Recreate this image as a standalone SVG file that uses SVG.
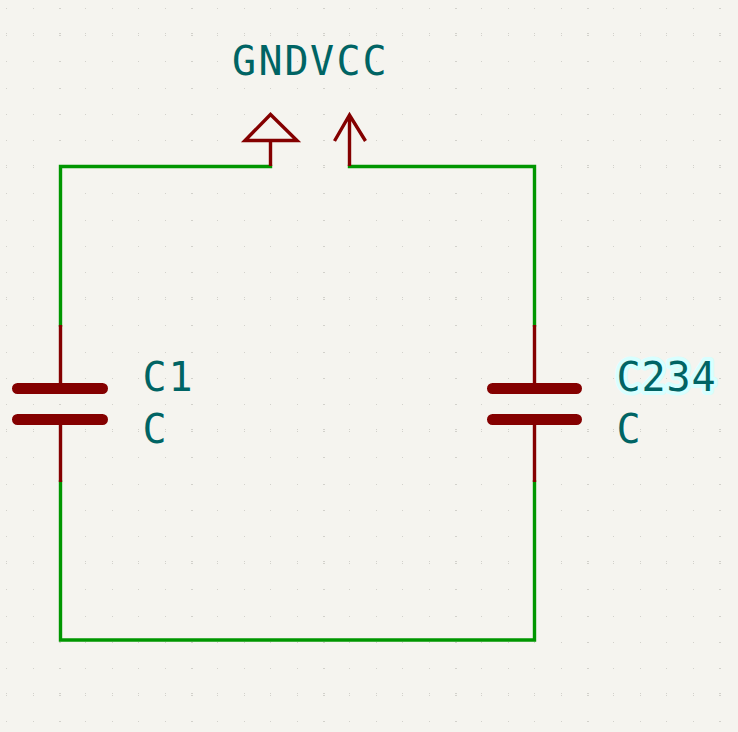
<svg xmlns="http://www.w3.org/2000/svg" width="738" height="732" viewBox="0 0 738 732">
<style>
.wire{fill:none;stroke:#009600;stroke-width:3.4;stroke-linecap:square;stroke-linejoin:miter}
.sym{fill:none;stroke:#840000;stroke-width:3.4;stroke-linejoin:miter}
.plate{fill:none;stroke:#840000;stroke-width:11;stroke-linecap:round}
text{font-family:"DejaVu Sans Mono","Liberation Mono",monospace;font-size:40px;fill:#006464}
.halo{paint-order:stroke;stroke:#d8ffff;stroke-width:8;stroke-linejoin:round}
.d{fill:#d2d1cb}
</style>
<defs>
<pattern id="grid" x="6" y="34" width="132" height="132" patternUnits="userSpaceOnUse">
<g class="d">
<rect x="0" y="1" width="1" height="1"/><rect x="27" y="1" width="1" height="1"/><rect x="53" y="1" width="2" height="1"/><rect x="79" y="1" width="1" height="1"/><rect x="106" y="1" width="1" height="1"/>
<rect x="0" y="27" width="1" height="1"/><rect x="27" y="27" width="1" height="1"/><rect x="53" y="27" width="2" height="1"/><rect x="79" y="27" width="1" height="1"/><rect x="106" y="27" width="1" height="1"/>
<rect x="0" y="54" width="1" height="1"/><rect x="27" y="54" width="1" height="1"/><rect x="53" y="54" width="2" height="1"/><rect x="79" y="54" width="1" height="1"/><rect x="106" y="54" width="1" height="1"/>
<rect x="0" y="80" width="1" height="1"/><rect x="27" y="80" width="1" height="1"/><rect x="53" y="80" width="2" height="1"/><rect x="79" y="80" width="1" height="1"/><rect x="106" y="80" width="1" height="1"/>
<rect x="0" y="106" width="1" height="1"/><rect x="27" y="106" width="1" height="1"/><rect x="53" y="106" width="2" height="1"/><rect x="79" y="106" width="1" height="1"/><rect x="106" y="106" width="1" height="1"/>
<rect x="0" y="131" width="1" height="1"/><rect x="27" y="131" width="1" height="1"/><rect x="53" y="131" width="2" height="1"/><rect x="79" y="131" width="1" height="1"/><rect x="106" y="131" width="1" height="1"/>
</g>
</pattern>
</defs>
<rect id="background" width="738" height="732" fill="#f5f4ef"/>
<rect id="grid-dots" width="738" height="732" fill="url(#grid)"/>
<g id="connectors">
<path class="wire" d="M270.500 166.500H60.500V325"/>
<path class="wire" d="M349.500 166.500H534.500V325"/>
<path class="wire" d="M60.500 482V640H534.500V482"/>
</g>
<g id="GND">
<path class="sym" d="M270.500 166V140.500M245 140.500H297L270.500 114.500Z"/>
<text x="232 258.500 284.500" y="74.500">GND</text>
</g>
<g id="VCC">
<path class="sym" d="M349.500 166V115M334.500 141L349.500 115L365.500 141"/>
<text x="310 336.500 362.500" y="74.500">VCC</text>
</g>
<g id="C1">
<path class="sym" d="M60.500 325V388M60.500 419V482"/>
<path class="plate" d="M17.500 388.500H102.500M17.500 419.500H102.500"/>
<text x="142.500 168.500" y="390.500">C1</text>
<text x="142.500" y="443">C</text>
</g>
<g id="C234">
<path class="sym" d="M534.500 325V388M534.500 419V482"/>
<path class="plate" d="M492.500 388.500H576.500M492.500 419.500H576.500"/>
<text class="halo" x="616.500 641.500 666.500 691.500" y="390.500">C234</text>
<text x="616.500" y="443">C</text>
</g>
</svg>
